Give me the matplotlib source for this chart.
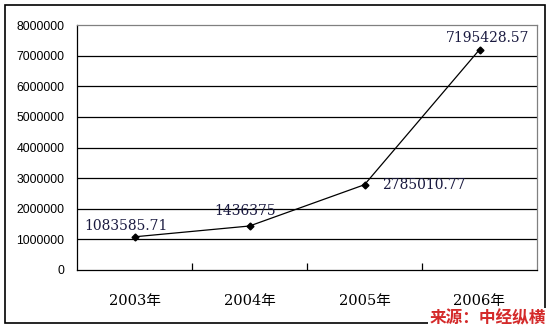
import matplotlib.pyplot as plt
from matplotlib.patches import Rectangle
from matplotlib.ticker import FixedLocator

# Datos
years = ["2003年", "2004年", "2005年", "2006年"]
values = [1083585.71, 1436375, 2785010.77, 7195428.57]
value_labels = ["1083585.71", "1436375", "2785010.77", "7195428.57"]

fig = plt.figure(figsize=(5.53, 3.31), dpi=100)
ax = fig.add_axes([77 / 553, 61 / 331, 460 / 553, 245 / 331])

x = list(range(len(years)))
ax.plot(x, values, color="black", linewidth=0.9, marker="D", markersize=3.5, zorder=3)

ax.set_xlim(-0.5, len(years) - 0.5)
ax.set_ylim(0, 8000000)
ax.set_yticks(range(0, 8000001, 1000000))
ax.set_yticklabels([str(v) for v in range(0, 8000001, 1000000)],
                   fontfamily="Liberation Sans", fontsize=8.8)
ax.tick_params(axis="y", length=0, pad=9)

ax.set_xticks(x)
ax.set_xticklabels(years, family=["DejaVu Serif", "Noto Sans CJK SC"], fontsize=10.5)
ax.tick_params(axis="x", which="major", length=0, pad=17)
ax.xaxis.set_minor_locator(FixedLocator([0.5, 1.5, 2.5]))
ax.tick_params(axis="x", which="minor", direction="in", length=5, width=0.9, color="black")

# Cuadrícula
for v in range(1000000, 8000000, 1000000):
    ax.axhline(v, color="black", linewidth=0.9, zorder=1)

for s in ["left", "bottom"]:
    ax.spines[s].set_color("black")
    ax.spines[s].set_linewidth(0.9)
for s in ["top", "right"]:
    ax.spines[s].set_color("#808080")
    ax.spines[s].set_linewidth(0.9)

# Etiquetas de datos
lab_font = dict(family="DejaVu Serif", fontsize=10, color="#1a1a40")
offsets = [(-6, 3, "center", "bottom"), (-3, 6, "center", "bottom"),
           (13, 0, "left", "center"), (6, 3, "center", "bottom")]
for xi, v, lab, (dx, dy, ha, va) in zip(x, values, value_labels, offsets):
    ax.annotate(lab, (xi, v), xytext=(dx, dy), textcoords="offset points",
                ha=ha, va=va, **lab_font)

# Marco exterior
fig.patches.append(Rectangle((5 / 553, 8 / 331), 540 / 553, 318 / 331,
                             transform=fig.transFigure, fill=False,
                             edgecolor="black", linewidth=1.2))

fig.text(546 / 553, 13 / 331, "来源：中经纵横", ha="right", va="center",
         fontfamily="Noto Sans CJK SC", fontsize=12, fontweight="bold",
         color="#d42a2a", bbox=dict(facecolor="white", edgecolor="none", pad=1))

fig.savefig("out.png", dpi=100)
